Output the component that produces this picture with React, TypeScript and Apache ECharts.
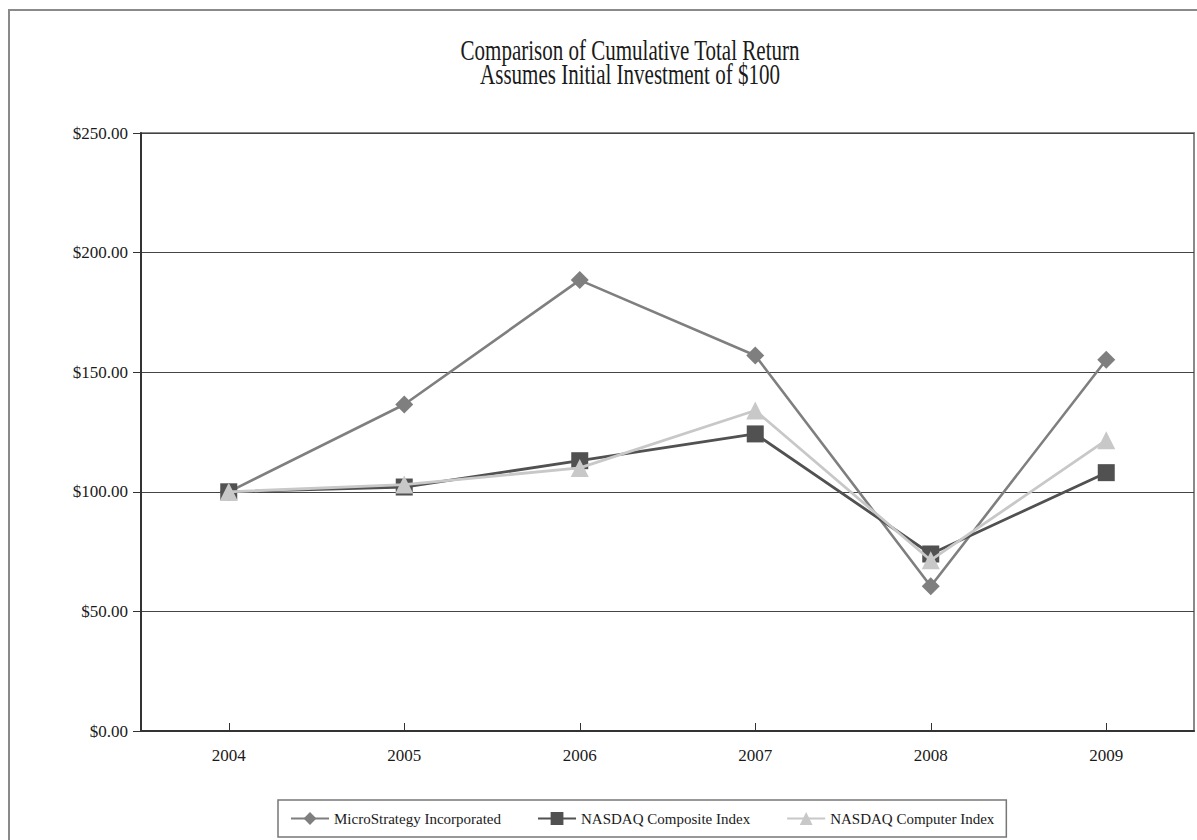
import React, { useEffect, useRef } from "react";
import * as echarts from "echarts";

const years = ["2004", "2005", "2006", "2007", "2008", "2009"];
const microStrategy = [100, 136.5, 188.5, 157, 60.5, 155.2];
const nasdaqComposite = [100, 102, 113, 124.2, 74, 108];
const nasdaqComputer = [100, 103, 110, 134, 71.4, 121.6];
const yTicks = [0, 50, 100, 150, 200, 250];
const seriesNames = [
  "MicroStrategy Incorporated",
  "NASDAQ Composite Index",
  "NASDAQ Computer Index",
];
const titleLines = [
  "Comparison of Cumulative Total Return",
  "Assumes Initial Investment of $100",
];

const FONT = "Liberation Serif";

export default function App() {
  const ref = useRef<HTMLDivElement>(null);

  useEffect(() => {
    document.body.style.margin = "0";
    document.body.style.overflow = "hidden";
    if (!ref.current) return;
    const chart = echarts.init(ref.current, undefined, { renderer: "svg" });
    const option: any = {
      animation: false,
      backgroundColor: "#ffffff",
      textStyle: { fontFamily: FONT },
      graphic: [
        {
          type: "rect",
          silent: true,
          shape: { x: 9, y: 10, width: 1250, height: 900 },
          style: { fill: "none", stroke: "#8a8a8a", lineWidth: 2 },
          z: 0,
        },
        {
          type: "text",
          x: 630,
          y: 49.5,
          scaleX: 0.725,
          style: {
            text: titleLines[0],
            fontFamily: FONT,
            fontSize: 29,
            fill: "#1a1a1a",
            textAlign: "center",
            textVerticalAlign: "middle",
          },
        },
        {
          type: "text",
          x: 630,
          y: 73.5,
          scaleX: 0.725,
          style: {
            text: titleLines[1],
            fontFamily: FONT,
            fontSize: 29,
            fill: "#1a1a1a",
            textAlign: "center",
            textVerticalAlign: "middle",
          },
        },
      ],
      grid: {
        left: 141,
        right: 3,
        top: 133,
        bottom: 109,
        show: true,
        borderColor: "#8a8a8a",
        borderWidth: 2,
        backgroundColor: "transparent",
      },
      legend: {
        left: 278,
        top: 800,
        orient: "horizontal",
        itemWidth: 38,
        itemHeight: 16,
        itemGap: 36,
        padding: [11, 12, 11, 12],
        borderColor: "#777777",
        borderWidth: 1.5,
        textStyle: { fontFamily: FONT, fontSize: 15, color: "#1a1a1a" },
        data: seriesNames,
      },
      xAxis: {
        type: "category",
        data: years,
        boundaryGap: true,
        axisLine: { show: true, lineStyle: { color: "#333333", width: 2 } },
        axisTick: {
          show: true,
          inside: true,
          alignWithLabel: true,
          length: 8,
          lineStyle: { color: "#333333", width: 1 },
        },
        axisLabel: {
          fontFamily: FONT,
          fontSize: 17,
          color: "#1a1a1a",
          margin: 16,
        },
        splitLine: { show: false },
      },
      yAxis: {
        type: "value",
        min: yTicks[0],
        max: yTicks[yTicks.length - 1],
        interval: yTicks[1] - yTicks[0],
        axisLine: { show: true, lineStyle: { color: "#333333", width: 2 } },
        axisTick: {
          show: true,
          inside: false,
          length: 8,
          lineStyle: { color: "#333333", width: 1 },
        },
        axisLabel: {
          fontFamily: FONT,
          fontSize: 17,
          color: "#1a1a1a",
          margin: 13,
          formatter: (v: number) => "$" + v.toFixed(2),
        },
        splitLine: { show: true, lineStyle: { color: "#444444", width: 1.2 } },
      },
      series: [
        {
          name: seriesNames[0],
          type: "line",
          data: microStrategy,
          symbol: "diamond",
          symbolSize: 18,
          lineStyle: { color: "#7f7f7f", width: 2.6 },
          itemStyle: { color: "#7f7f7f" },
          z: 3,
        },
        {
          name: seriesNames[1],
          type: "line",
          data: nasdaqComposite,
          symbol: "rect",
          symbolSize: 17,
          lineStyle: { color: "#515151", width: 2.8 },
          itemStyle: { color: "#515151" },
          z: 4,
        },
        {
          name: seriesNames[2],
          type: "line",
          data: nasdaqComputer,
          symbol: "triangle",
          symbolSize: 18,
          lineStyle: { color: "#c8c8c8", width: 2.8 },
          itemStyle: { color: "#c8c8c8" },
          z: 5,
        },
      ],
    };
    chart.setOption(option);
    return () => {
      chart.dispose();
    };
  }, []);

  return <div ref={ref} style={{ width: 1197, height: 840 }} />;
}
